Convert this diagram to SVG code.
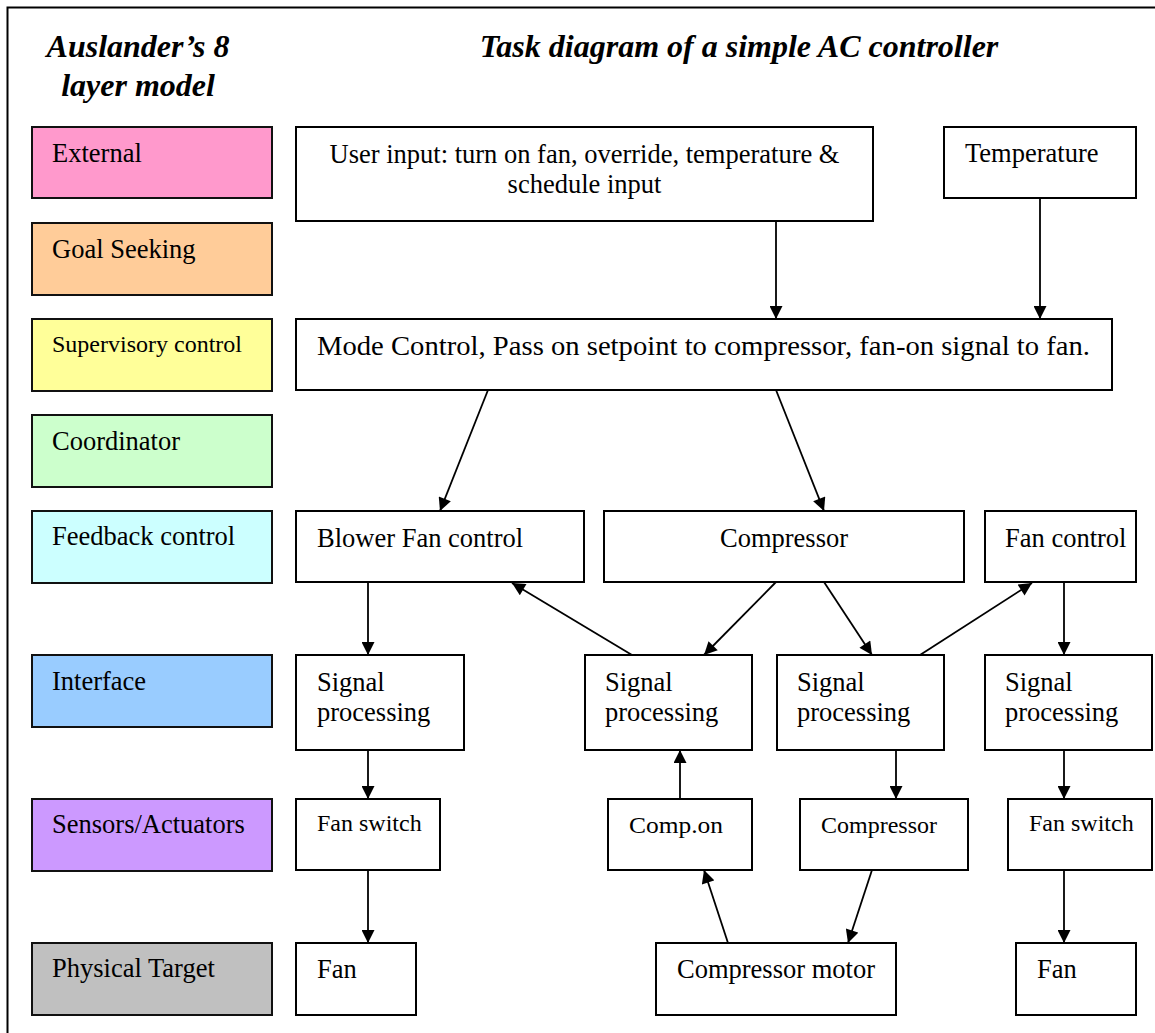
<svg xmlns="http://www.w3.org/2000/svg" width="1155" height="1033" viewBox="0 0 1155 1033">
  <defs>
    <marker id="arrow" viewBox="0 0 10 10" refX="10" refY="5" markerUnits="userSpaceOnUse" markerWidth="15" markerHeight="13" orient="auto">
      <path d="M0,0 L10,5 L0,10 z" fill="#000"/>
    </marker>
  </defs>
  <style>
    text { font-family: "Liberation Serif", "Times New Roman", serif; fill: #000; }
    .title { font-size: 32px; font-weight: bold; font-style: italic; }
    .lbl { font-size: 26.5px; }
    .sm { font-size: 24px; }
    .layer rect { stroke: #111; stroke-width: 2; }
    .node rect { fill: #fff; stroke: #000; stroke-width: 2; }
    .conn line { stroke: #000; stroke-width: 1.8; marker-end: url(#arrow); }
  </style>

  <rect width="1155" height="1033" fill="#fff"/>
  <!-- outer frame (open on the right and bottom) -->
  <path d="M7.5,1033 V7.5 H1155" fill="none" stroke="#000" stroke-width="2"/>

  <!-- headings -->
  <text class="title" x="138" y="57" text-anchor="middle">Auslander’s 8</text>
  <text class="title" x="138" y="96" text-anchor="middle">layer model</text>
  <text class="title" x="739" y="57" text-anchor="middle">Task diagram of a simple AC controller</text>

  <!-- layer column -->
  <g id="layer-external" class="layer"><rect x="32" y="127" width="240" height="71" fill="#FF99CC"/><text class="lbl" x="52" y="162">External</text></g>
  <g id="layer-goal" class="layer"><rect x="32" y="223" width="240" height="72" fill="#FFCC99"/><text class="lbl" x="52" y="258">Goal Seeking</text></g>
  <g id="layer-supervisory" class="layer"><rect x="32" y="319" width="240" height="72" fill="#FFFF99"/><text class="sm" x="52" y="352">Supervisory control</text></g>
  <g id="layer-coordinator" class="layer"><rect x="32" y="415" width="240" height="72" fill="#CCFFCC"/><text class="lbl" x="52" y="450">Coordinator</text></g>
  <g id="layer-feedback" class="layer"><rect x="32" y="511" width="240" height="72" fill="#CCFFFF"/><text class="lbl" x="52" y="545">Feedback control</text></g>
  <g id="layer-interface" class="layer"><rect x="32" y="655" width="240" height="72" fill="#99CCFF"/><text class="lbl" x="52" y="690">Interface</text></g>
  <g id="layer-sensors" class="layer"><rect x="32" y="799" width="240" height="72" fill="#CC99FF"/><text class="lbl" x="52" y="833">Sensors/Actuators</text></g>
  <g id="layer-physical" class="layer"><rect x="32" y="943" width="240" height="72" fill="#C0C0C0"/><text class="lbl" x="52" y="977">Physical Target</text></g>

  <!-- task nodes -->
  <g id="user-input" class="node"><rect x="296" y="127" width="577" height="94"/>
    <text class="lbl" x="584.5" y="163" text-anchor="middle">User input: turn on fan, override, temperature &amp;</text>
    <text class="lbl" x="584.5" y="193" text-anchor="middle">schedule input</text></g>
  <g id="temperature" class="node"><rect x="944" y="127" width="192" height="71"/><text class="lbl" x="965" y="162">Temperature</text></g>
  <g id="mode-control" class="node"><rect x="296" y="319" width="816" height="71"/><text class="lbl" x="317" y="355" textLength="773" lengthAdjust="spacingAndGlyphs">Mode Control, Pass on setpoint to compressor, fan-on signal to fan.</text></g>

  <g id="blower-fan-control" class="node"><rect x="296" y="511" width="288" height="71"/><text class="lbl" x="317" y="547">Blower Fan control</text></g>
  <g id="compressor-control" class="node"><rect x="604" y="511" width="360" height="71"/><text class="lbl" x="784" y="547" text-anchor="middle">Compressor</text></g>
  <g id="fan-control" class="node"><rect x="985" y="511" width="151" height="71"/><text class="lbl" x="1005" y="547">Fan control</text></g>

  <g id="signal-1" class="node"><rect x="296" y="655" width="168" height="95"/><text class="lbl" x="317" y="691">Signal</text><text class="lbl" x="317" y="721">processing</text></g>
  <g id="signal-2" class="node"><rect x="585" y="655" width="167" height="95"/><text class="lbl" x="605" y="691">Signal</text><text class="lbl" x="605" y="721">processing</text></g>
  <g id="signal-3" class="node"><rect x="777" y="655" width="167" height="95"/><text class="lbl" x="797" y="691">Signal</text><text class="lbl" x="797" y="721">processing</text></g>
  <g id="signal-4" class="node"><rect x="985" y="655" width="167" height="95"/><text class="lbl" x="1005" y="691">Signal</text><text class="lbl" x="1005" y="721">processing</text></g>

  <g id="fan-switch-1" class="node"><rect x="296" y="799" width="144" height="71"/><text class="sm" x="317" y="831">Fan switch</text></g>
  <g id="comp-on" class="node"><rect x="608" y="799" width="144" height="71"/><text class="sm" x="629" y="833" textLength="94" lengthAdjust="spacingAndGlyphs">Comp.on</text></g>
  <g id="compressor-actuator" class="node"><rect x="800" y="799" width="168" height="71"/><text class="sm" x="821" y="833">Compressor</text></g>
  <g id="fan-switch-2" class="node"><rect x="1008" y="799" width="144" height="71"/><text class="sm" x="1029" y="831">Fan switch</text></g>

  <g id="fan-1" class="node"><rect x="296" y="943" width="120" height="72"/><text class="lbl" x="317" y="978">Fan</text></g>
  <g id="compressor-motor" class="node"><rect x="656" y="943" width="240" height="72"/><text class="lbl" x="677" y="978">Compressor motor</text></g>
  <g id="fan-2" class="node"><rect x="1016" y="943" width="120" height="72"/><text class="lbl" x="1037" y="978">Fan</text></g>

  <!-- connectors -->
  <g id="connectors" class="conn">
    <line x1="776" y1="221" x2="776" y2="319"/>
    <line x1="1040" y1="198" x2="1040" y2="319"/>
    <line x1="488" y1="390" x2="440" y2="511"/>
    <line x1="776" y1="390" x2="824" y2="511"/>
    <line x1="368" y1="582" x2="368" y2="655"/>
    <line x1="632" y1="655" x2="512" y2="583"/>
    <line x1="776" y1="582" x2="704" y2="655"/>
    <line x1="824" y1="582" x2="872" y2="655"/>
    <line x1="920" y1="655" x2="1032" y2="583"/>
    <line x1="1064" y1="582" x2="1064" y2="655"/>
    <line x1="368" y1="750" x2="368" y2="799"/>
    <line x1="680" y1="799" x2="680" y2="750"/>
    <line x1="896" y1="750" x2="896" y2="799"/>
    <line x1="1064" y1="750" x2="1064" y2="799"/>
    <line x1="368" y1="870" x2="368" y2="943"/>
    <line x1="728" y1="943" x2="704" y2="870"/>
    <line x1="872" y1="870" x2="848" y2="943"/>
    <line x1="1064" y1="870" x2="1064" y2="943"/>
  </g>
</svg>
